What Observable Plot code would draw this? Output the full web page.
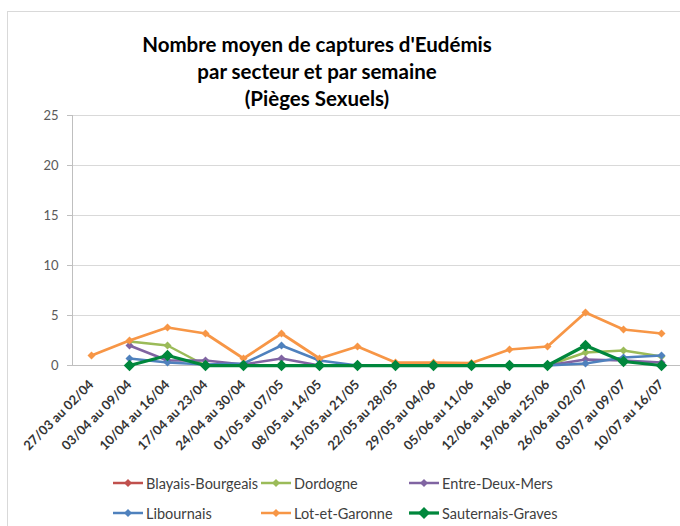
<!DOCTYPE html>
<html><head><meta charset="utf-8">
<script src="https://cdn.jsdelivr.net/npm/d3@7"></script>
<script src="https://cdn.jsdelivr.net/npm/@observablehq/plot@0.6"></script>
<style>
body{margin:0;background:#fff;font-family:Lato,"Open Sans",sans-serif;}
#wrap{position:relative;width:680px;height:526px;overflow:hidden;background:#fff;}
#frame{position:absolute;left:7px;top:11px;width:700px;height:600px;border:1px solid #d9d9d9;}
#title{position:absolute;left:0;top:31px;width:634px;text-align:center;font-weight:bold;font-size:20.5px;line-height:27px;color:#000;}
#chart{position:absolute;left:0;top:105px;}
.lg{position:absolute;display:flex;align-items:center;font-size:14.5px;color:#404040;white-space:nowrap;}
.lg svg{margin-right:3px;}
</style>
</head><body>
<div id="wrap">
<div id="frame"></div>
<div id="title">Nombre moyen de captures d'Eudémis<br>par secteur et par semaine<br>(Pièges Sexuels)</div>
<div id="chart"></div>
<div id="legend"></div>
</div>
<script>
const weeks = ["27/03 au 02/04","03/04 au 09/04","10/04 au 16/04","17/04 au 23/04","24/04 au 30/04","01/05 au 07/05","08/05 au 14/05","15/05 au 21/05","22/05 au 28/05","29/05 au 04/06","05/06 au 11/06","12/06 au 18/06","19/06 au 25/06","26/06 au 02/07","03/07 au 09/07","10/07 au 16/07"];
const seriesNames = ["Blayais-Bourgeais","Dordogne","Entre-Deux-Mers","Libournais","Lot-et-Garonne","Sauternais-Graves"];
const seriesColors = ["#C0504D","#9BBB59","#8064A2","#4F81BD","#F79646","#00873C"];
const blayais    = [null,null,null,null,null,null,null,null,null,null,null,null,null,null,null,null];
const dordogne   = [null,2.4,2.0,0,0,0,0,0,0,0,0,0,0,1.3,1.5,0.9];
const entreDeux  = [null,2.0,0.5,0.5,0.1,0.7,0,0,0,0,0,0,0,0.6,0.5,0.3];
const libournais = [null,0.7,0.3,0.1,0.2,2.0,0.5,0,0,0,0,0,0,0.2,0.8,1.0];
const lotGaronne = [1.0,2.5,3.8,3.2,0.7,3.2,0.7,1.9,0.3,0.3,0.25,1.6,1.9,5.3,3.6,3.2];
const sauternais = [null,0,1.0,0,0,0,0,0,0,0,0,0,0,2.0,0.4,0];
const yTicks = [0,5,10,15,20,25];

const allValues = [blayais,dordogne,entreDeux,libournais,lotGaronne,sauternais];
const styles = [
  {w:2.5,r:3.2},{w:2.5,r:3.2},{w:2.5,r:3.2},{w:2.5,r:3.2},{w:2.75,r:3.2},{w:3.25,r:4.6}
];
const tables = allValues.map((vals,k)=>weeks.map((w,i)=>({week:w, v:vals[i], serie:seriesNames[k]})));

const marks = [
  Plot.gridY(yTicks.filter(d=>d>0), {stroke:"#d9d9d9", strokeOpacity:1, strokeWidth:1}),
  Plot.ruleY([0], {stroke:"#bfbfbf", strokeWidth:1}),
  Plot.axisY(yTicks, {tickSize:5, tickPadding:9, fontSize:13, fill:"#595959", stroke:"#bfbfbf", label:null}),
  Plot.axisX({tickRotate:-45, tickSize:0, tickPadding:17, fontSize:13, fontWeight:"bold", fill:"#333", label:null}),
  Plot.frame({anchor:"left", stroke:"#bfbfbf"})
];
tables.forEach((t,k)=>{
  const st = styles[k];
  const def = t.filter(d=>d.v!=null);
  marks.push(Plot.line(t, {x:"week", y:"v", stroke:seriesColors[k], strokeWidth:st.w, strokeLinejoin:"round", curve:"linear"}));
  marks.push(Plot.dot(def, {x:"week", y:"v", symbol:"square", r:st.r, rotate:45, fill:seriesColors[k], stroke:"none"}));
});

const chart = Plot.plot({
  width:680, height:370,
  marginLeft:72, marginRight:0, marginTop:10, marginBottom:110,
  style:{fontFamily:"Lato, 'Open Sans', sans-serif", background:"transparent", overflow:"visible"},
  x:{type:"point", domain:weeks, padding:0.5},
  y:{domain:[0,25]},
  marks
});
document.getElementById("chart").appendChild(chart);

const legendPos = [[113,483],[261,483],[409,483],[113,513],[261,513],[409,513]];
const lg = document.getElementById("legend");
seriesNames.forEach((name,k)=>{
  const p = legendPos[k];
  const big = k===5;
  const div = document.createElement("div");
  div.className="lg";
  div.style.left=p[0]+"px";
  div.style.top=(p[1]-10)+"px";
  div.style.height="20px";
  const s = big?6:4;
  div.innerHTML = `<svg width="30" height="20"><line x1="0" x2="30" y1="10" y2="10" stroke="${seriesColors[k]}" stroke-width="${big?3.25:2.5}"/><path d="M15 ${10-s} L${15+s} 10 L15 ${10+s} L${15-s} 10Z" fill="${seriesColors[k]}"/></svg><span>${name}</span>`;
  lg.appendChild(div);
});
</script>
</body></html>
